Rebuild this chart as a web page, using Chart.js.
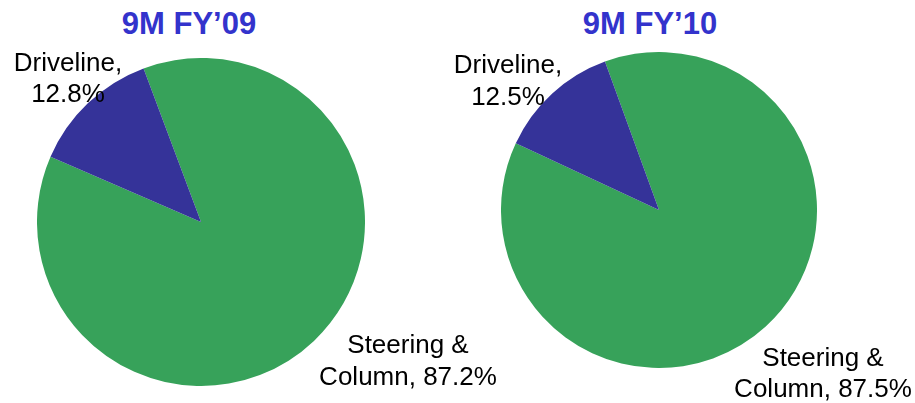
<!DOCTYPE html>
<html>
<head>
<meta charset="utf-8">
<script src="https://cdn.jsdelivr.net/npm/chart.js@4/dist/chart.umd.min.js"></script>
<style>
  body { margin: 0; background: #fff; width: 915px; height: 403px; position: relative; overflow: hidden; }
  canvas { position: absolute; }
  .title { position: absolute; font: bold 31px "Liberation Sans", Arial, sans-serif; color: #3333cc; line-height: 36px; white-space: nowrap; transform: translateX(-50%); }
  .lbl { position: absolute; font: 26px "Liberation Sans", Arial, sans-serif; color: #000; text-align: center; white-space: nowrap; transform: translateX(-50%); }
</style>
</head>
<body>
<div class="title" id="t1" style="left:189px; top:6px"></div>
<div class="title" id="t2" style="left:650px; top:6px"></div>
<canvas id="pie1" width="328" height="328" style="left:37px; top:58px"></canvas>
<canvas id="pie2" width="316" height="316" style="left:501px; top:52px"></canvas>
<div class="lbl" id="l1a" style="left:68px; top:47px; line-height:31px"></div>
<div class="lbl" id="l1b" style="left:408px; top:328px; line-height:32px"></div>
<div class="lbl" id="l2a" style="left:508px; top:48px; line-height:32px"></div>
<div class="lbl" id="l2b" style="left:823px; top:342px; line-height:31px"></div>
<script>
// данные
const categories = ['Steering & Column', 'Driveline']
const titles = ['9M FY\u201909', '9M FY\u201910']
const fy09 = [87.2, 12.8]
const fy10 = [87.5, 12.5]

const colors = ['#37a25a', '#353399']

// подписи
function label(name, value) {
    let parts = name === 'Driveline' ? ['Driveline,', value + '%'] : ['Steering &', 'Column, ' + value + '%']
    return parts.join('<br>')
}

document.getElementById('t1').textContent = titles[0]
document.getElementById('t2').textContent = titles[1]
document.getElementById('l1a').innerHTML = label(categories[1], fy09[1])
document.getElementById('l1b').innerHTML = label('Steering', fy09[0])
document.getElementById('l2a').innerHTML = label(categories[1], fy10[1])
document.getElementById('l2b').innerHTML = label('Steering', fy10[0])

// создание графика
function makePie(id, values, rot) {
    return new Chart(document.getElementById(id), {
        type: 'pie',
        data: {
            labels: categories,
            datasets: [{
                data: values,
                backgroundColor: colors,
                borderWidth: 0
            }]
        },
        options: {
            responsive: false,
            animation: false,
            rotation: rot,
            layout: { padding: 0 },
            plugins: { legend: { display: false }, tooltip: { enabled: false } }
        }
    })
}

makePie('pie1', fy09, -20.5)
makePie('pie2', fy10, -20)
</script>
</body>
</html>
